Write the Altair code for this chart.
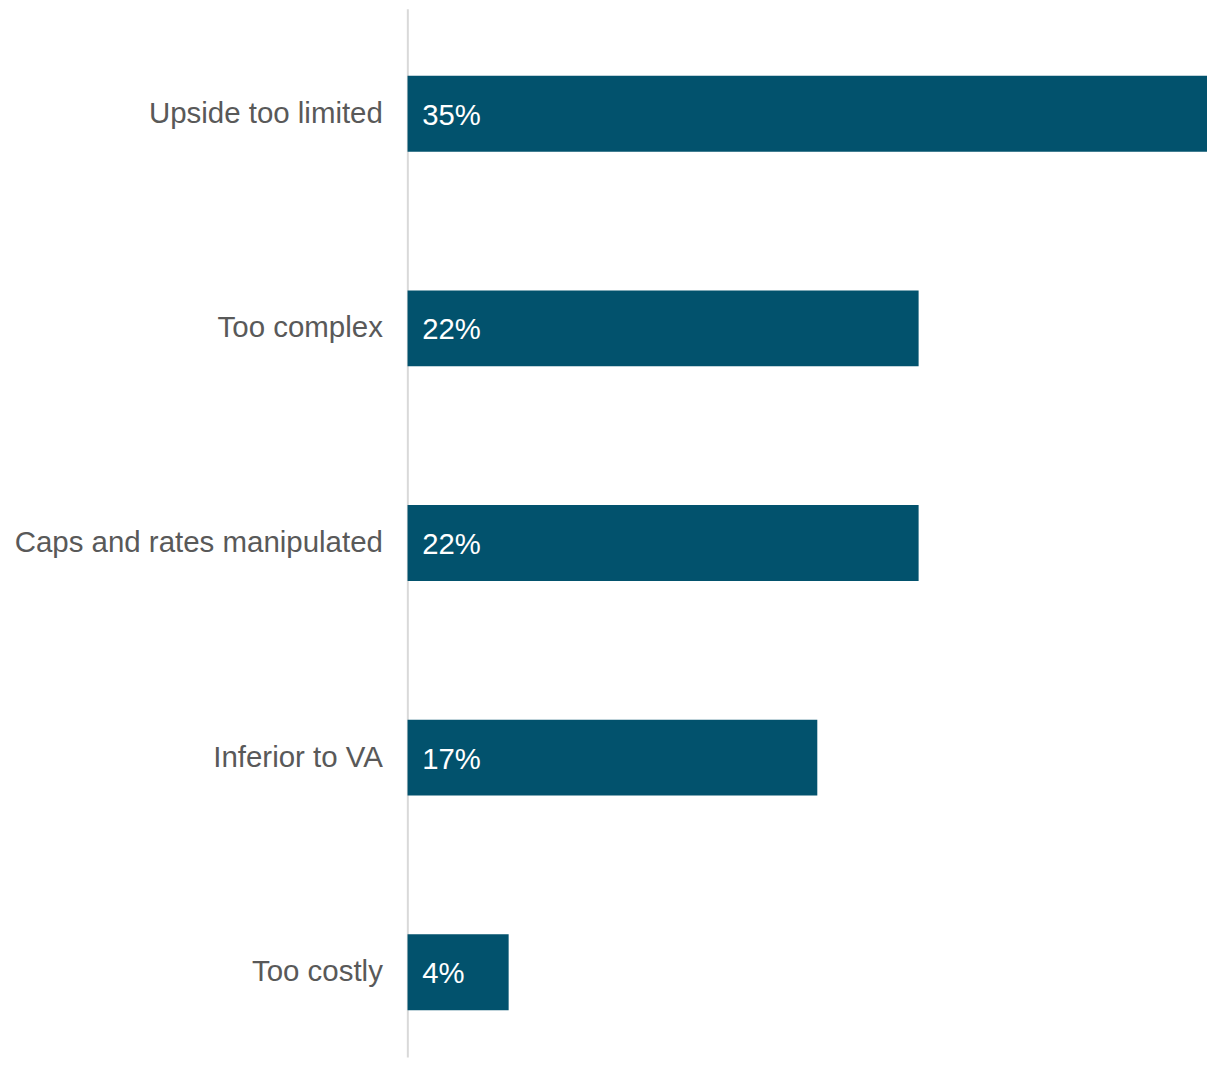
import altair as alt
import pandas as pd

categories = ["Upside too limited", "Too complex", "Caps and rates manipulated", "Inferior to VA", "Too costly"]
values = [34.8, 21.7, 21.7, 17.4, 4.3]

df = pd.DataFrame({"category": categories, "value": values})

FONT = "Liberation Sans"
BAR_COLOR = "#02526D"

y_enc = alt.Y(
    "category:N",
    sort=categories,
    scale=alt.Scale(paddingInner=0.6465, paddingOuter=0.2651, align=0.588),
    axis=alt.Axis(
        title=None,
        ticks=False,
        grid=False,
        labelFont=FONT,
        labelFontSize=29.5,
        labelColor="#595959",
        labelPadding=25,
        labelLimit=600,
        domainColor="#D9D9D9",
        domainWidth=2,
    ),
)

x_scale = alt.Scale(domain=[0, 33.94], nice=False, zero=True)

bars = alt.Chart(df).mark_bar(color=BAR_COLOR, clip=True).encode(
    x=alt.X("value:Q", scale=x_scale, axis=None),
    y=y_enc,
)

labels = alt.Chart(df).transform_calculate(
    label="format(datum.value, '.0f') + '%'"
).mark_text(
    align="left", baseline="middle", dx=15, dy=2, color="white", font=FONT, fontSize=29.3
).encode(
    x=alt.value(0),
    y=y_enc,
    text="label:N",
)

chart = alt.layer(bars, labels).properties(
    width=801,
    height=1050,
    background="white",
    padding={"left": 6, "top": 0, "right": 0, "bottom": 0},
).configure_view(stroke=None, strokeWidth=0)

chart.save("out.html", embed_options={"renderer": "svg", "actions": False})
